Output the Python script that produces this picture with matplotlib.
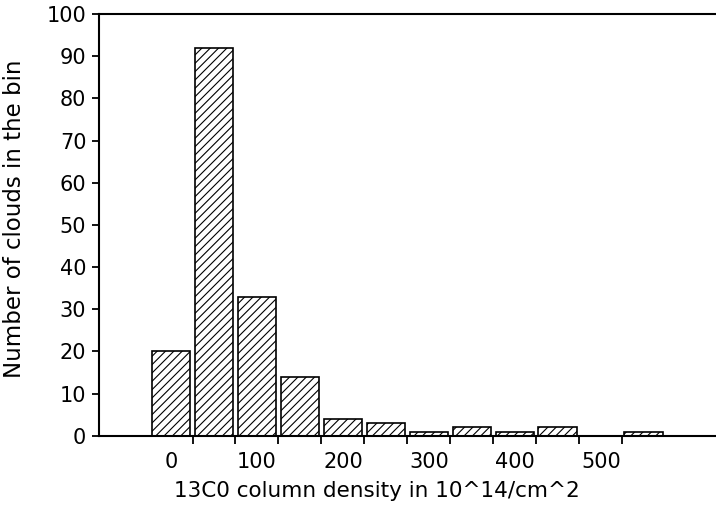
import numpy as np
import matplotlib.pyplot as plt

# bin centres (10^14 / cm^2) and counts per bin
bin_centers = [0, 50, 100, 150, 200, 250, 300, 350, 400, 450, 500, 550]
counts = [20, 92, 33, 14, 4, 3, 1, 2, 1, 2, 0, 1]
bin_width = 50
x_labels = [0, 100, 200, 300, 400, 500]
y_ticks = list(range(0, 101, 10))

plt.rcParams['hatch.linewidth'] = 0.8
fig = plt.figure(figsize=(7.16, 5.05), dpi=100)
ax = fig.add_axes([0.138, 0.137, 0.862, 0.835])

ax.bar(bin_centers, counts, width=bin_width * 0.9, color='white',
       edgecolor='black', linewidth=1.2, hatch='////', zorder=2)

ax.set_xlim(-84, 634)
ax.set_ylim(0, 100)
ax.spines['right'].set_visible(False)
for s in ['left', 'bottom', 'top']:
    ax.spines[s].set_linewidth(1.5)

ax.set_yticks(y_ticks)
ax.set_xticks(x_labels)
ax.set_xticks([c + bin_width / 2 for c in bin_centers[:-1]], minor=True)
ax.tick_params(axis='x', which='major', length=0, pad=12, labelsize=15)
ax.tick_params(axis='x', which='minor', length=6, width=1.3, direction='out')
ax.tick_params(axis='y', length=5, width=1.3, direction='out', pad=4, labelsize=15)

ax.set_xlabel('13C0 column density in 10^14/cm^2', fontsize=15.5)
ax.set_ylabel('Number of clouds in the bin', fontsize=16.5)
ax.xaxis.set_label_coords(0.45, -0.108)
ax.yaxis.set_label_coords(-0.118, 0.515)

plt.savefig('out.png', dpi=100)
